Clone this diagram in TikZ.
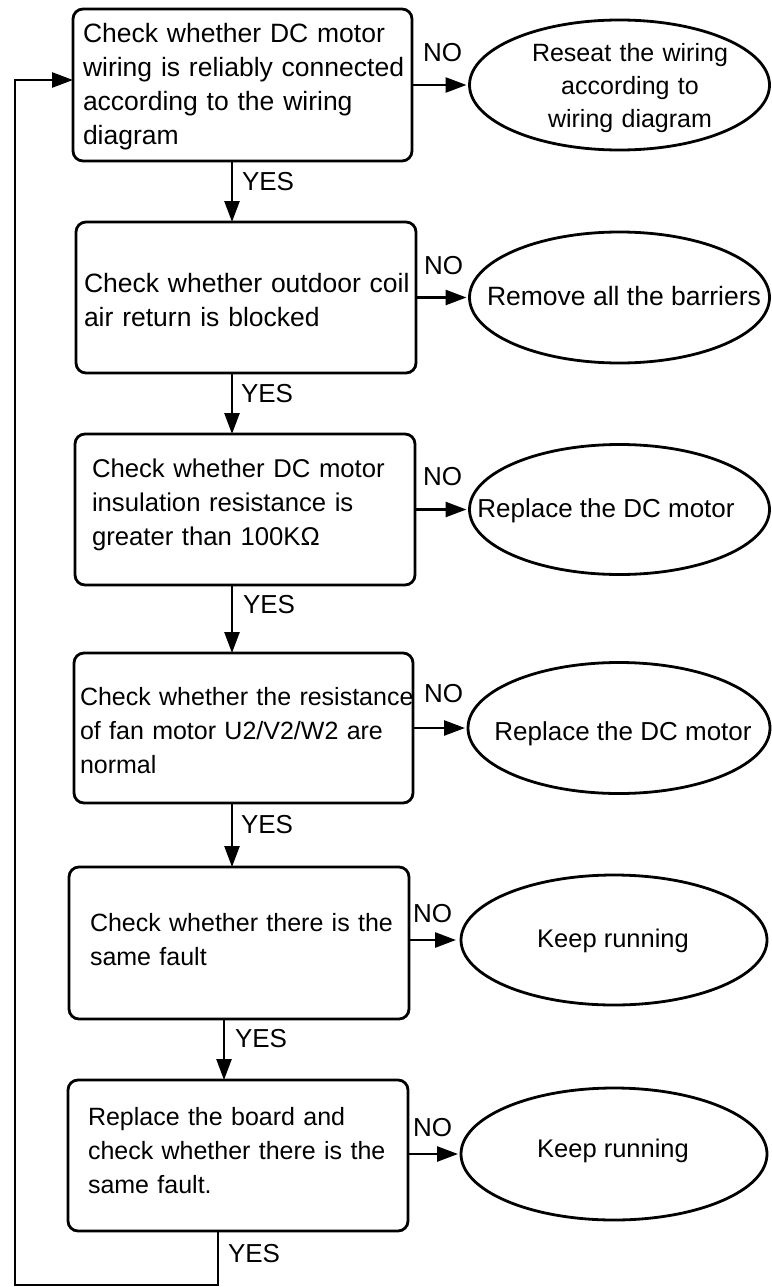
\documentclass[tikz,border=0pt]{standalone}
\usepackage{fontspec}
\setmainfont{Liberation Sans}
\usetikzlibrary{arrows.meta,shapes.geometric}

\tikzset{
  every node/.style={inner sep=0pt, outer sep=0pt},
  stepbox/.style={draw, rectangle, line width=2.8pt, rounded corners=10pt,
                  anchor=north west, align=left, inner ysep=0pt},
  endoval/.style={draw, ellipse, line width=2.8pt},
  ovaltext/.style={anchor=base, align=center},
  flow/.style={line width=2.6pt, -{Triangle[length=21pt,width=15pt]}},
  tag/.style={anchor=base west, font=\fontsize{26}{30}\selectfont},
}

\begin{document}
\begin{tikzpicture}[x=1pt, y=-1pt]
  % page area
  \fill[white] (0,0) rectangle (771,1287);
  \useasboundingbox (0,0) rectangle (771,1287);

  % columns of the YES connectors and the return rail
  \coordinate (ya) at (232,0);
  \coordinate (yb) at (224,0);
  \coordinate (yc) at (218,0);
  \coordinate (rail) at (15,1285);

  % check steps (each line kept whole, left aligned)
  \node[stepbox, minimum width=339pt, inner xsep=10pt, text width=319pt,
        text height=34pt, text depth=118pt, font=\fontsize{26.5}{34}\selectfont]
    (b1) at (73,9) {\mbox{Check whether DC motor}\\\mbox{wiring is reliably connected}\\\mbox{according to the wiring}\\\mbox{diagram}};
  \node[stepbox, minimum width=340pt, inner xsep=8pt, text width=324pt,
        text height=70pt, text depth=81pt, font=\fontsize{26.5}{34}\selectfont]
    (b2) at (76,222) {\mbox{Check whether outdoor coil}\\\mbox{air return is blocked}};
  \node[stepbox, minimum width=340pt, inner xsep=17pt, text width=306pt,
        text height=43pt, text depth=108pt, font=\fontsize{25.7}{34}\selectfont]
    (b3) at (75,434) {\mbox{Check whether DC motor}\\\mbox{insulation resistance is}\\\mbox{greater than 100KΩ}};
  \node[stepbox, minimum width=339pt, inner xsep=6pt, text width=327pt,
        text height=52pt, text depth=98pt, font=\fontsize{25}{34}\selectfont]
    (b4) at (74,653) {\mbox{Check whether the resistance}\\\mbox{of fan motor U2/V2/W2 are}\\\mbox{normal}};
  \node[stepbox, minimum width=340pt, inner xsep=21pt, text width=298pt,
        text height=64pt, text depth=88pt, font=\fontsize{25}{34}\selectfont]
    (b5) at (69,867) {\mbox{Check whether there is the}\\\mbox{same fault}};
  \node[stepbox, minimum width=340pt, inner xsep=20pt, text width=300pt,
        text height=45pt, text depth=106pt, font=\fontsize{25}{34}\selectfont]
    (b6) at (68,1080) {\mbox{Replace the board and}\\\mbox{check whether there is the}\\\mbox{same fault.}};

  % outcomes
  \node[endoval, minimum width=300pt, minimum height=130pt] (e1) at (619.5,85) {};
  \node[endoval, minimum width=300pt, minimum height=131pt] (e2) at (619.5,297.5) {};
  \node[endoval, minimum width=300pt, minimum height=130pt] (e3) at (619.5,509.5) {};
  \node[endoval, minimum width=302pt, minimum height=131pt] (e4) at (619,728) {};
  \node[endoval, minimum width=306pt, minimum height=130pt] (e5) at (614,940) {};
  \node[endoval, minimum width=306pt, minimum height=132pt] (e6) at (614,1154) {};

  \node[ovaltext, text width=230pt, font=\fontsize{25}{33}\selectfont]
    (t1) at (630,62) {Reseat the wiring\\according to\\wiring diagram};
  \node[ovaltext, font=\fontsize{26.5}{34}\selectfont] (t2) at (624,305) {Remove all the barriers};
  \node[ovaltext, font=\fontsize{26}{34}\selectfont] (t3) at (606,517) {Replace the DC motor};
  \node[ovaltext, font=\fontsize{26}{34}\selectfont] (t4) at (623,740) {Replace the DC motor};
  \node[ovaltext, font=\fontsize{25.5}{34}\selectfont] (t5) at (613,947) {Keep running};
  \node[ovaltext, font=\fontsize{25.5}{34}\selectfont] (t6) at (613,1157) {Keep running};

  % YES path down the column
  \draw[flow] (b1.south -| ya) node[tag, xshift=10pt, yshift=-29pt] {YES} -- (b2.north -| ya);
  \draw[flow] (b2.south -| ya) node[tag, xshift=9pt, yshift=-29pt] {YES} -- (b3.north -| ya);
  \draw[flow] (b3.south -| ya) node[tag, xshift=11pt, yshift=-28pt] {YES} -- (b4.north -| ya);
  \draw[flow] (b4.south -| ya) node[tag, xshift=9pt, yshift=-30pt] {YES} -- (b5.north -| ya);
  \draw[flow] (b5.south -| yb) node[tag, xshift=11pt, yshift=-28pt] {YES} -- (b6.north -| yb);

  % return rail back to the first check
  \draw[flow] (b6.south -| yc) node[tag, xshift=10pt, yshift=-31pt] {YES}
    |- (rail) |- ([yshift=5pt]b1.west);

  % NO branches
  \draw[flow, shorten >=3pt] (b1.east |- e1.west) node[tag, xshift=11pt, yshift=23pt] {NO} -- (e1.west);
  \draw[flow, shorten >=3pt] (b2.east |- e2.west) node[tag, xshift=8pt, yshift=23pt] {NO} -- (e2.west);
  \draw[flow, shorten >=3pt] (b3.east |- e3.west) node[tag, xshift=8pt, yshift=24pt] {NO} -- (e3.west);
  \draw[flow, shorten >=3pt] (b4.east |- e4.west) node[tag, xshift=11pt, yshift=26pt] {NO} -- (e4.west);
  \draw[flow, shorten >=5pt] (b5.east |- e5.west) node[tag, xshift=4pt, yshift=18pt] {NO} -- (e5.west);
  \draw[flow, shorten >=3pt] (b6.east |- e6.west) node[tag, xshift=5pt, yshift=18pt] {NO} -- (e6.west);
\end{tikzpicture}
\end{document}
